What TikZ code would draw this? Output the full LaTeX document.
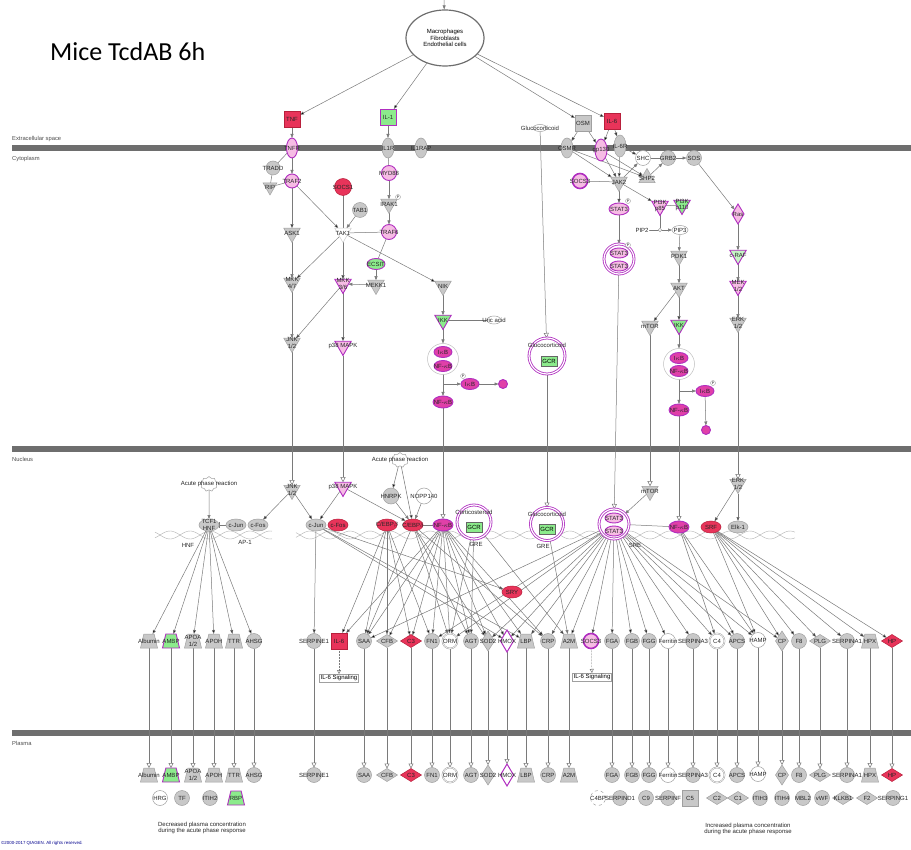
\documentclass[tikz,border=0pt]{standalone}
\usepackage{fontspec}
\setmainfont{Liberation Sans}
\newfontfamily\titlefont{Carlito}
\usepackage{tikz}
\usetikzlibrary{shapes.geometric, shapes.symbols, arrows.meta, positioning}

\definecolor{grayfl}{HTML}{C8C8C8}
\definecolor{graydr}{HTML}{A0A0A0}
\definecolor{edgec}{HTML}{7A7A7A}
\definecolor{memb}{HTML}{6E6E6E}
\definecolor{upred}{HTML}{E8345A}
\definecolor{upredd}{HTML}{B8203C}
\definecolor{pinkfl}{HTML}{F6BCE4}
\definecolor{magb}{HTML}{B02EC0}
\definecolor{magfl}{HTML}{E040A8}
\definecolor{grnfl}{HTML}{8CEB8C}

\newcommand{\gfont}{\fontsize{6}{6.5}\selectfont}
\newcommand{\zfont}{\fontsize{5.8}{6.5}\selectfont}

\pgfdeclarelayer{bg}
\pgfsetlayers{bg,main}

\tikzset{
  lbfont/.style={font=\gfont, inner sep=0pt, align=center, text=black!85},
  lb/.style={label={[lbfont]center:#1}},
  gene/.style={inner sep=0pt, outer sep=0pt, line width=0.5pt},
  gcirc/.style={gene, circle, minimum size=15pt, draw=graydr, fill=grayfl},
  wcirc/.style={gene, circle, minimum size=15pt, draw=graydr, fill=white},
  oval/.style={gene, ellipse, minimum width=20pt, minimum height=12pt, draw=graydr, fill=grayfl},
  vov/.style={gene, ellipse, minimum width=12pt, minimum height=20pt, draw=graydr, fill=grayfl},
  gtri/.style={gene, regular polygon, regular polygon sides=3, shape border rotate=180, minimum size=19pt, draw=graydr, fill=grayfl},
  utri/.style={gene, regular polygon, regular polygon sides=3, minimum size=19pt, draw=graydr, fill=grayfl},
  trap/.style={gene, inner sep=1pt, trapezium, trapezium stretches=true, trapezium left angle=72, trapezium right angle=72, minimum width=17pt, minimum height=14pt, draw=graydr, fill=grayfl},
  gdia/.style={gene, diamond, minimum width=21pt, minimum height=13pt, draw=graydr, fill=grayfl},
  gsq/.style={gene, rectangle, minimum size=16pt, draw=graydr, fill=grayfl},
  cplx/.style={gene, circle, draw=magb, line width=0.8pt, double=white, double distance=1.2pt, fill=white},
  apr/.style={gene, cloud, cloud puffs=9, minimum width=17pt, minimum height=15pt, draw=graydr, fill=white},
  gbox/.style={draw=black!60, fill=grnfl, font=\gfont, inner sep=1.5pt, minimum width=16pt, minimum height=10pt},
  phos/.style={circle, draw=graydr, fill=white, inner sep=0.3pt, minimum size=5pt, font=\fontsize{3.5}{4}\selectfont},
  pk/.style={fill=pinkfl, draw=magb, line width=0.9pt},
  mg/.style={fill=magfl, draw=magb, line width=0.9pt},
  rd/.style={fill=upred, draw=upredd},
  gn/.style={fill=grnfl, draw=magb, line width=0.9pt},
  arr/.style={draw=edgec, line width=0.5pt, -{Triangle[length=4pt, width=3pt]}},
  opn/.style={draw=edgec, line width=0.5pt, -{Triangle[open, length=5pt, width=5pt]}},
  lnk/.style={draw=edgec, line width=0.5pt},
  inh/.style={draw=edgec, line width=0.5pt, -{Bar[width=6pt]}},
  dotarr/.style={draw=edgec, line width=0.5pt, densely dotted, -{Triangle[open, length=4pt, width=4pt]}},
  membr/.style={draw=memb, line width=6pt},
  helix/.style={draw=black!30, line width=0.4pt},
  zone/.style={font=\zfont, anchor=west, text=black!70, inner sep=0pt}
}

\begin{document}
\begin{tikzpicture}[x=1pt, y=-1pt]
    \useasboundingbox (0,0) rectangle (911,850);

    % Title and cells
    \node (title) [anchor=west, inner sep=0pt, font=\titlefont\fontsize{26}{30}\selectfont] at (50,52) {Mice TcdAB 6h};
    \coordinate (cin) at (444,0);
    \node (cells) [ellipse, draw=memb, line width=1.2pt, minimum width=78pt, minimum height=56pt, align=center, font=\gfont, inner sep=0pt] at (445,38) {Macrophages\\Fibroblasts\\Endothelial cells};

    % Compartments
    \node (zext) [zone] at (12,139) {Extracellular space};
    \node (zcyt) [zone] at (12,159) {Cytoplasm};
    \node (znuc) [zone] at (12,459) {Nucleus};
    \node (zpla) [zone] at (12,743) {Plasma};

    % Ligands
    \node (tnf) [gsq, rd, lb=TNF] at (292,119) {};
    \node (il1) [gsq, gn, lb=IL-1] at (388,117) {};
    \node (osm) [gsq, lb=OSM] at (583,123) {};
    \node (il6) [gsq, rd, lb=IL-6] at (612,121) {};
    \node (gluc) [gene, ellipse, draw=graydr, fill=white, minimum width=14pt, minimum height=7pt, lb=Glucocorticoid] at (540,128) {};

    % Receptors
    \node (tnfr) [vov, pk, minimum width=11pt, lb=TNFR] at (292,148) {};
    \node (il1r) [vov, lb=IL1R] at (388,148) {};
    \node (il1rap) [vov, lb=IL1RAP] at (421,148) {};
    \node (osmr) [vov, lb=OSMR] at (567,148) {};
    \node (gp130) [vov, pk, minimum height=22pt, lb=gp130] at (601,150) {};
    \node (il6r) [vov, minimum height=22pt, lb=IL-6R] at (620,146) {};

    % TNF branch
    \node (tradd) [gcirc, minimum size=14pt, lb=TRADD] at (273,168) {};
    \node (traf2) [gcirc, pk, minimum size=14pt, lb=TRAF2] at (292,181) {};
    \node (rip) [gtri, minimum size=16pt, lb=RIP] at (270,187) {};
    \node (ask1) [gtri, lb=ASK1] at (292,233) {};
    \node (mkk47) [gtri, lb={MKK\\4/7}] at (292,283) {};
    \node (jnk) [gtri, lb={JNK\\1/2}] at (292,343) {};

    % IL-1 branch
    \node (myd88) [gcirc, pk, lb=MYD88] at (389,173) {};
    \node (irak1) [gtri, lb=IRAK1] at (389,204) {};
    \node (pirak) [phos] at (398,197) {P};
    \node (socs1) [gcirc, rd, minimum size=17pt, lb=SOCS1] at (343,187) {};
    \node (tab1) [gcirc, lb=TAB1] at (360,210) {};
    \node (tak1) [gtri, fill=white, draw=black!20, lb=TAK1] at (343,233) {};
    \node (traf6) [gcirc, pk, lb=TRAF6] at (389,232) {};
    \node (ecsit) [gene, ellipse, minimum width=18pt, minimum height=11pt, gn, lb=ECSIT] at (376,264) {};
    \node (mekk1) [gtri, lb=MEKK1] at (376,285) {};
    \node (mkk36) [gtri, pk, lb={MKK\\3/6}] at (343,284) {};
    \node (p38) [gtri, pk, lb=p38 MAPK] at (343,346) {};
    \node (nik) [gtri, lb=NIK] at (443,286) {};
    \node (ikk) [gtri, gn, lb=IKK] at (443,320) {};
    \node (uric) [gene, ellipse, draw=graydr, fill=white, minimum width=14pt, minimum height=8pt, lb=Uric acid] at (494,320) {};
    \node (cplx1) [gene, circle, draw=black!25, fill=white, minimum size=31pt] at (443,359) {};
    \node (ikb1) [oval, mg, minimum width=18pt, minimum height=11pt, lb=I$\kappa$B] at (443,352) {};
    \node (nfk1) [oval, mg, minimum width=18pt, minimum height=11pt, lb=NF-$\kappa$B] at (443,366) {};
    \node (ikbp1) [oval, mg, minimum width=18pt, minimum height=11pt, lb=I$\kappa$B] at (470,384) {};
    \node (pikb1) [phos] at (463,376) {P};
    \node (deg1) [gene, circle, minimum size=9pt, mg] at (503,384) {};
    \node (nfkc1) [oval, mg, lb=NF-$\kappa$B] at (443,402) {};

    % Glucocorticoid receptor (cytoplasm)
    \node (gcr1) [cplx, minimum size=36pt] at (547,356) {};
    \node (gct1) [lbfont] at (547,345) {Glucocorticoid};
    \node (gbx1) [gbox] at (549,361) {GCR};

    % IL-6 / OSM branch
    \node (socs3) [gcirc, fill=pinkfl, draw=magb, line width=1.6pt, lb=SOCS3] at (580,181) {};
    \node (shc) [wcirc, lb=SHC] at (643,158) {};
    \node (grb2) [gcirc, lb=GRB2] at (668,158) {};
    \node (sos) [gcirc, lb=SOS] at (694,158) {};
    \node (jak2) [gtri, lb=JAK2] at (619,182) {};
    \node (shp2) [utri, lb=SHP2] at (647,178) {};
    \node (stat3) [oval, pk, lb=STAT3] at (619,209) {};
    \node (pstat) [phos] at (628,201) {P};
    \node (std1) [cplx, minimum size=30pt] at (619,259) {};
    \node (sta1) [oval, pk, minimum width=18pt, minimum height=10pt, lb=STAT3] at (619,253) {};
    \node (stb1) [oval, pk, minimum width=18pt, minimum height=10pt, lb=STAT3] at (619,266) {};
    \node (pstd) [phos] at (628,245) {P};
    \node (pi3k) [gtri, pk, lb={PI3K\\p85}] at (660,206) {};
    \node (p110) [gtri, gn, lb={PI3K\\p110}] at (682,205) {};
    \node (pip2) [gene, ellipse, draw=white, fill=white, minimum width=14pt, minimum height=8pt, lb=PIP2] at (642,230) {};
    \node (cat) [circle, draw=graydr, fill=white, inner sep=0pt, minimum size=3.5pt] at (660,230) {};
    \node (pip3) [gene, ellipse, draw=graydr, fill=white, minimum width=16pt, minimum height=9pt, lb=PIP3] at (680,230) {};
    \node (pdk1) [gtri, lb=PDK1] at (679,256) {};
    \node (akt) [gtri, lb=AKT] at (679,288) {};
    \node (mtor) [gtri, lb=mTOR] at (650,326) {};
    \node (ikk2) [gtri, gn, lb=IKK] at (679,325) {};
    \node (cplx2) [gene, circle, draw=black!25, fill=white, minimum size=31pt] at (679,364) {};
    \node (ikb2) [oval, mg, minimum width=18pt, minimum height=11pt, lb=I$\kappa$B] at (679,358) {};
    \node (nfk2) [oval, mg, minimum width=18pt, minimum height=11pt, lb=NF-$\kappa$B] at (679,371) {};
    \node (ikbp2) [oval, mg, minimum width=18pt, minimum height=11pt, lb=I$\kappa$B] at (705,391) {};
    \node (pikb2) [phos] at (713,383) {P};
    \node (deg2) [gene, circle, minimum size=9pt, mg] at (706,430) {};
    \node (nfkc2) [oval, mg, lb=NF-$\kappa$B] at (679,410) {};
    \node (ras) [gdia, mg, fill=pinkfl, minimum width=12pt, minimum height=20pt, lb=Ras] at (738,214) {};
    \node (craf) [gtri, fill=grnfl!50!white, draw=magb, line width=0.9pt, lb=c-RAF] at (738,255) {};
    \node (mek) [gtri, pk, lb={MEK\\1/2}] at (738,286) {};
    \node (erk) [gtri, lb={ERK\\1/2}] at (738,323) {};

    % Nucleus
    \node (apr1) [apr, lb=Acute phase reaction] at (209,484) {};
    \node (tcf1) [oval, lb={TCF1\\HNF}] at (209,525) {};
    \node (cjun1) [oval, lb=c-Jun] at (236,525) {};
    \node (cfos1) [oval, lb=c-Fos] at (258,525) {};
    \node (jnkn) [gtri, lb={JNK\\1/2}] at (292,490) {};
    \node (p38n) [gtri, pk, lb=p38 MAPK] at (343,487) {};
    \node (cjun2) [oval, lb=c-Jun] at (316,525) {};
    \node (cfos2) [oval, rd, lb=c-Fos] at (338,525) {};
    \node (apr2) [apr, lb=Acute phase reaction] at (400,460) {};
    \node (hnrpk) [gcirc, minimum size=16pt, lb=HNRPK] at (391,496) {};
    \node (nopp) [wcirc, minimum size=16pt, lb=NOPP140] at (424,496) {};
    \node (cebpb) [oval, rd, lb=C/EBP$\beta$] at (387,525) {};
    \node (cebpd) [oval, rd, lb=C/EBP$\delta$] at (413,525) {};
    \node (nfkn) [oval, mg, lb=NF-$\kappa$B] at (443,525) {};
    \node (cort) [cplx, minimum size=34pt] at (474,522) {};
    \node (cortt) [lbfont] at (474,512) {Corticosteroid};
    \node (gbx2) [gbox] at (474,527) {GCR};
    \node (glucn) [cplx, minimum size=33pt] at (547,524) {};
    \node (gct3) [lbfont] at (547,514) {Glucocorticoid};
    \node (gbx3) [gbox] at (547,529) {GCR};
    \node (stn) [cplx, minimum size=30pt] at (614,524) {};
    \node (sta2) [oval, pk, minimum width=18pt, minimum height=10pt, lb=STAT3] at (614,518) {};
    \node (stb2) [oval, pk, minimum width=18pt, minimum height=10pt, lb=STAT3] at (614,531) {};
    \node (mtorn) [gtri, lb=mTOR] at (650,491) {};
    \node (nfkn2) [oval, mg, lb=NF-$\kappa$B] at (679,527) {};
    \node (srf) [oval, rd, lb=SRF] at (711,527) {};
    \node (erkn) [gtri, lb={ERK\\1/2}] at (738,484) {};
    \node (elk1) [oval, lb=Elk-1] at (738,527) {};
    \node (sry) [oval, rd, lb=SRY] at (512,592) {};
    \node (hnf) [lbfont] at (188,545) {HNF};
    \node (ap1) [lbfont] at (245,542) {AP-1};
    \node (gre1) [lbfont] at (476,544) {GRE};
    \node (gre2) [lbfont] at (543,546) {GRE};
    \node (sre) [lbfont] at (635,545) {SRE};

    % Target genes
    \node (alb) [trap, lb=Albumin] at (149,641) {};
    \node (ambp) [trap, gn, lb=AMBP] at (171,641) {};
    \node (apoa) [trap, lb={APOA\\1/2}] at (193,641) {};
    \node (apoh) [trap, lb=APOH] at (214,641) {};
    \node (ttr) [trap, lb=TTR] at (234,641) {};
    \node (ahsg) [gcirc, lb=AHSG] at (254,641) {};
    \node (serpe) [gcirc, lb=SERPINE1] at (314,641) {};
    \node (il6g) [gsq, rd, lb=IL-6] at (339,641) {};
    \node (saa) [gcirc, lb=SAA] at (364,641) {};
    \node (cfb) [gdia, lb=CFB] at (387,641) {};
    \node (c3) [gdia, rd, lb=C3] at (411,641) {};
    \node (fn1) [gcirc, lb=FN1] at (432,641) {};
    \node (orm) [wcirc, double, lb=ORM] at (450,641) {};
    \node (agt) [gcirc, lb=AGT] at (471,641) {};
    \node (sod2) [gdia, minimum width=13pt, minimum height=20pt, lb=SOD2] at (488,641) {};
    \node (hmox) [gdia, minimum width=13pt, minimum height=22pt, fill=white, draw=magb, line width=1pt, lb=HMOX] at (507,641) {};
    \node (lbp) [trap, lb=LBP] at (526,641) {};
    \node (crp) [gcirc, lb=CRP] at (548,641) {};
    \node (a2m) [trap, lb=A2M] at (569,641) {};
    \node (socsg) [gcirc, fill=pinkfl, draw=magb, line width=1.6pt, lb=SOCS3] at (591,641) {};
    \node (fga) [gcirc, lb=FGA] at (612,641) {};
    \node (fgb) [gcirc, lb=FGB] at (632,641) {};
    \node (fgg) [gcirc, lb=FGG] at (649,641) {};
    \node (ferr) [wcirc, lb=Ferritin] at (668,641) {};
    \node (sa3) [gcirc, lb=SERPINA3] at (693,641) {};
    \node (c4) [wcirc, double, lb=C4] at (717,641) {};
    \node (apcs) [gcirc, lb=APCS] at (737,641) {};
    \node (hamp) [wcirc, lb=HAMP] at (758,640) {};
    \node (cp) [gdia, minimum width=13pt, minimum height=20pt, lb=CP] at (782,641) {};
    \node (f8) [gcirc, lb=F8] at (799,641) {};
    \node (plg) [gdia, lb=PLG] at (820,641) {};
    \node (sa1) [gcirc, lb=SERPINA1] at (847,641) {};
    \node (hpx) [trap, lb=HPX] at (870,641) {};
    \node (hp) [gdia, rd, lb=HP] at (892,641) {};
    \node (sig1) [draw=graydr, fill=white, font=\gfont, inner sep=1pt] at (339,678) {IL-6 Signaling};
    \node (sig2) [draw=graydr, fill=white, font=\gfont, inner sep=1pt] at (592,677) {IL-6 Signaling};

    % Plasma proteins
    \node (albp) [trap, lb=Albumin] at (149,775) {};
    \node (ambpp) [trap, gn, lb=AMBP] at (171,775) {};
    \node (apoap) [trap, lb={APOA\\1/2}] at (193,775) {};
    \node (apohp) [trap, lb=APOH] at (214,775) {};
    \node (ttrp) [trap, lb=TTR] at (234,775) {};
    \node (ahsgp) [gcirc, lb=AHSG] at (254,775) {};
    \node (serpep) [gcirc, lb=SERPINE1] at (314,775) {};
    \node (saap) [gcirc, lb=SAA] at (364,775) {};
    \node (cfbp) [gdia, lb=CFB] at (387,775) {};
    \node (c3p) [gdia, rd, lb=C3] at (411,775) {};
    \node (fn1p) [gcirc, lb=FN1] at (432,775) {};
    \node (ormp) [wcirc, double, lb=ORM] at (450,775) {};
    \node (agtp) [gcirc, lb=AGT] at (471,775) {};
    \node (sod2p) [gdia, minimum width=13pt, minimum height=20pt, lb=SOD2] at (488,775) {};
    \node (hmoxp) [gdia, minimum width=13pt, minimum height=22pt, fill=white, draw=magb, line width=1pt, lb=HMOX] at (507,775) {};
    \node (lbpp) [trap, lb=LBP] at (526,775) {};
    \node (crpp) [gcirc, lb=CRP] at (548,775) {};
    \node (a2mp) [trap, lb=A2M] at (569,775) {};
    \node (fgap) [gcirc, lb=FGA] at (612,775) {};
    \node (fgbp) [gcirc, lb=FGB] at (632,775) {};
    \node (fggp) [gcirc, lb=FGG] at (649,775) {};
    \node (ferrp) [wcirc, lb=Ferritin] at (668,775) {};
    \node (sa3p) [gcirc, lb=SERPINA3] at (693,775) {};
    \node (c4p) [wcirc, double, lb=C4] at (717,775) {};
    \node (apcsp) [gcirc, lb=APCS] at (737,775) {};
    \node (hampp) [wcirc, lb=HAMP] at (758,774) {};
    \node (cpp) [gdia, minimum width=13pt, minimum height=20pt, lb=CP] at (782,775) {};
    \node (f8p) [gcirc, lb=F8] at (799,775) {};
    \node (plgp) [gdia, lb=PLG] at (820,775) {};
    \node (sa1p) [gcirc, lb=SERPINA1] at (847,775) {};
    \node (hpxp) [trap, lb=HPX] at (870,775) {};
    \node (hpp) [gdia, rd, lb=HP] at (892,775) {};

    \node (hrg) [wcirc, lb=HRG] at (160,798) {};
    \node (tf) [gcirc, lb=TF] at (182,798) {};
    \node (itih2) [gcirc, lb=ITIH2] at (210,798) {};
    \node (rbp) [trap, gn, lb=RBP] at (236,798) {};
    \node (c4bp) [wcirc, dashed, lb=C4BP] at (598,798) {};
    \node (sd1) [gcirc, lb=SERPIND1] at (620,798) {};
    \node (c9) [gcirc, lb=C9] at (646,798) {};
    \node (sf1) [gcirc, lb=SERPINF] at (668,798) {};
    \node (c5) [gsq, lb=C5] at (690,798) {};
    \node (c2) [gdia, lb=C2] at (717,798) {};
    \node (c1) [gdia, lb=C1] at (738,798) {};
    \node (itih3) [gcirc, lb=ITIH3] at (760,798) {};
    \node (itih4) [gcirc, lb=ITIH4] at (782,798) {};
    \node (mbl2) [gcirc, lb=MBL2] at (803,798) {};
    \node (vwf) [gcirc, lb=vWF] at (822,798) {};
    \node (klkb1) [gdia, lb=KLKB1] at (843,798) {};
    \node (f2) [gdia, lb=F2] at (867,798) {};
    \node (sg1) [gcirc, lb=SERPING1] at (893,798) {};

    \node (dec) [lbfont] at (202,828) {Decreased plasma concentration\\during the acute phase response};
    \node (inc) [lbfont] at (748,829) {Increased plasma concentration\\during the acute phase response};
    \node (copy) [anchor=west, inner sep=0pt, font=\fontsize{4.4}{5}\selectfont, text=blue!55!black] at (1,843) {©2000-2017 QIAGEN. All rights reserved.};

    \begin{pgfonlayer}{bg}
    % Membranes and DNA
    \draw[membr] (12,148) -- (911,148);
    \draw[membr] (12,449) -- (911,449);
    \draw[membr] (12,733) -- (911,733);
    \draw[helix] plot[domain=155:272, samples=60] (\x, {535+4*sin(9*\x)});
    \draw[helix] plot[domain=155:272, samples=60] (\x, {535-4*sin(9*\x)});
    \draw[helix] plot[domain=296:795, samples=220] (\x, {535+4*sin(9*\x)});
    \draw[helix] plot[domain=296:795, samples=220] (\x, {535-4*sin(9*\x)});

    % Upstream
    \draw[arr] (cin) -- (cells);
    \draw[arr] (cells) edge (tnf) edge (il1) edge (osm) edge (il6);
    \draw[arr] (tnf) -- (tnfr);
    \draw[lnk] (tnfr) -- (tradd);
    \draw[arr] (tnfr) -- (traf2);
    \draw[lnk] (tradd) -- (rip);
    \draw[lnk] (traf2) -- (rip);
    \draw[arr] (traf2) edge (ask1) edge (tak1);
    \draw[arr] (ask1) -- (mkk47);
    \draw[arr] (mkk47) -- (jnk);
    \draw[arr] (il1) -- (il1r);
    \draw[lnk] (il1r) -- (myd88);
    \draw[arr] (myd88) -- (irak1);
    \draw[arr] (irak1) -- (traf6);
    \draw[lnk] (traf6) -- (tak1);
    \draw[lnk] (traf6) -- (ecsit);
    \draw[arr] (ecsit) -- (mekk1);
    \draw[arr] (mekk1) -- (mkk36);
    \draw[arr] (tab1) -- (tak1);
    \draw[inh] (socs1) -- (tak1);
    \draw[arr] (tak1) edge (mkk47) edge (mkk36) edge (nik);
    \draw[arr] (mkk36) edge (jnk) edge (p38);
    \draw[arr] (nik) -- (ikk);
    \draw[lnk] (uric) -- (ikk);
    \draw[arr] (ikk) -- (cplx1);
    \draw[arr] (cplx1) |- (ikbp1);
    \draw[arr] (ikbp1) -- (deg1);
    \draw[arr] (cplx1) -- (nfkc1);
    \draw[opn] (gluc) -- (gcr1);
    \draw[arr] (osm) edge (osmr) edge (gp130);
    \draw[arr] (il6) edge (gp130) edge (il6r);
    \draw[arr] (osmr) edge (jak2) edge (shp2);
    \draw[arr] (gp130) edge (jak2) edge (shp2);
    \draw[arr] (il6r) edge (jak2) edge (shc);
    \draw[arr] (jak2) -- (shc);
    \draw[lnk] (shc) -- (grb2);
    \draw[arr] (grb2) -- (sos);
    \draw[arr] (shp2) -- (grb2);
    \draw[inh] (socs3) -- (jak2);
    \draw[arr] (jak2) edge (stat3) edge (pi3k);
    \draw[arr] (stat3) -- (std1);
    \draw[lnk] (pi3k) -- (p110);
    \draw[lnk] (pi3k) -- (cat);
    \draw[arr] (pip2) -- (pip3);
    \draw[arr] (pip3) -- (pdk1);
    \draw[arr] (pdk1) -- (akt);
    \draw[arr] (akt) edge (mtor) edge (ikk2);
    \draw[arr] (ikk2) -- (cplx2);
    \draw[arr] (cplx2) |- (ikbp2);
    \draw[arr] (ikbp2) -- (deg2);
    \draw[arr] (cplx2) -- (nfkc2);
    \draw[arr] (sos) -- (ras);
    \draw[arr] (ras) -- (craf);
    \draw[arr] (craf) -- (mek);
    \draw[arr] (mek) -- (erk);

    % Into the nucleus
    \draw[opn] (jnk) -- (jnkn);
    \draw[opn] (p38) -- (p38n);
    \draw[opn] (nfkc1) -- (nfkn);
    \draw[opn] (gcr1) -- (glucn);
    \draw[opn] (std1) -- (stn);
    \draw[opn] (mtor) -- (mtorn);
    \draw[opn] (nfkc2) -- (nfkn2);
    \draw[opn] (erk) -- (erkn);

    % Nucleus
    \draw[arr] (apr1) -- (tcf1);
    \draw[inh] (cjun1) -- (tcf1);
    \draw[arr] (jnkn) edge (cfos1) edge (cjun2);
    \draw[arr] (p38n) edge (cjun2) edge (cebpd);
    \draw[arr] (apr2) edge (hnrpk) edge (cebpd);
    \draw[arr] (hnrpk) -- (cebpd);
    \draw[arr] (nopp) -- (cebpd);
    \draw[lnk] (cebpd) -- (nfkn);
    \draw[arr] (mtorn) -- (stn);
    \draw[inh] (nfkn2) -- (stn);
    \draw[arr] (erkn) edge (srf) edge (elk1);

    % Transcription
    \draw[arr] (tcf1) edge (alb) edge (ambp) edge (apoa) edge (apoh) edge (ttr) edge (ahsg);
    \draw[arr] (cjun2) edge (serpe) edge (sry) edge (hmox) edge (lbp);
    \draw[arr] (cebpb) edge (il6g) edge (saa) edge (cfb) edge (c3) edge (fn1);
    \draw[arr] (cebpd) edge (saa) edge (orm) edge (agt) edge (sod2) edge (crp);
    \draw[arr] (nfkn) edge (il6g) edge (saa) edge (cfb) edge (c3) edge (fn1) edge (orm) edge (agt) edge (sod2) edge (hmox) edge (lbp) edge (crp);
    \draw[arr] (cort) edge (orm) edge (agt) edge (a2m);
    \draw[arr] (glucn) -- (a2m);
    \draw[arr] (stn) edge (saa) edge (fn1) edge (orm) edge (sod2) edge (hmox) edge (lbp) edge (crp) edge (a2m) edge (socsg) edge (fga) edge (fgb) edge (fgg) edge (ferr) edge (sa3) edge (c4) edge (apcs) edge (hamp) edge (cp);
    \draw[arr] (nfkn2) edge (c4) edge (apcs) edge (hamp);
    \draw[arr] (srf) edge (hamp) edge (cp) edge (f8) edge (plg) edge (sa1) edge (hpx) edge (hp);
    \draw[dotarr] (il6g) -- (sig1);
    \draw[dotarr] (socsg) -- (sig2);

    % Secretion into plasma
    \draw[opn] (alb) edge (albp) (ambp) edge (ambpp) (apoa) edge (apoap) (apoh) edge (apohp) (ttr) edge (ttrp) (ahsg) edge (ahsgp);
    \draw[opn] (serpe) edge (serpep) (saa) edge (saap) (cfb) edge (cfbp) (c3) edge (c3p) (fn1) edge (fn1p) (orm) edge (ormp);
    \draw[opn] (agt) edge (agtp) (sod2) edge (sod2p) (hmox) edge (hmoxp) (lbp) edge (lbpp) (crp) edge (crpp) (a2m) edge (a2mp);
    \draw[opn] (fga) edge (fgap) (fgb) edge (fgbp) (fgg) edge (fggp) (ferr) edge (ferrp) (sa3) edge (sa3p) (c4) edge (c4p);
    \draw[opn] (apcs) edge (apcsp) (hamp) edge (hampp) (cp) edge (cpp) (f8) edge (f8p) (plg) edge (plgp) (sa1) edge (sa1p);
    \draw[opn] (hpx) edge (hpxp) (hp) edge (hpp);
    \end{pgfonlayer}
\end{tikzpicture}
\end{document}
